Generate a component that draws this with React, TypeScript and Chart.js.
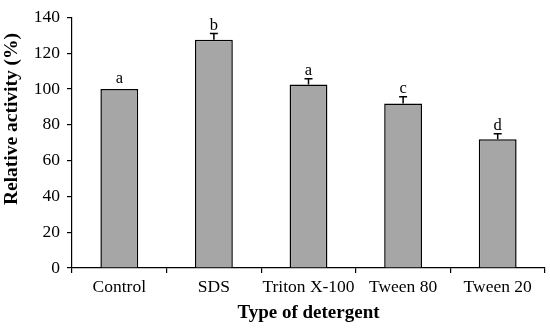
import React, { useEffect, useRef } from "react";
import { Chart, registerables } from "chart.js";

Chart.register(...registerables);

const categories = ["Control", "SDS", "Triton X-100", "Tween 80", "Tween 20"];
const activity = [100, 127.5, 102.5, 92, 72];
const errors = [0, 3.5, 3.3, 3.7, 3];
const letters = ["a", "b", "a", "c", "d"];
const yTicks = [0, 20, 40, 60, 80, 100, 120, 140];
const yTitle = "Relative activity (%)";
const xTitle = "Type of detergent";

const SERIF = "'Liberation Serif', 'Times New Roman', serif";

const errorBarPlugin = {
  id: "errorBars",
  afterDatasetsDraw(chart: any) {
    const ctx = chart.ctx;
    const meta = chart.getDatasetMeta(0);
    const y = chart.scales.y;
    ctx.save();
    meta.data.forEach((bar: any, i: number) => {
      const v = activity[i];
      const e = errors[i];
      const x = bar.x;
      const yTop = y.getPixelForValue(v);
      const yErr = y.getPixelForValue(v + e);
      if (e > 0) {
        ctx.strokeStyle = "#000";
        ctx.lineWidth = 1.5;
        ctx.beginPath();
        ctx.moveTo(x, yTop);
        ctx.lineTo(x, yErr);
        ctx.moveTo(x - 4, yErr);
        ctx.lineTo(x + 4, yErr);
        ctx.stroke();
      }
      ctx.fillStyle = "#000";
      ctx.font = `16.5px ${SERIF}`;
      ctx.textAlign = "center";
      ctx.textBaseline = "alphabetic";
      ctx.fillText(letters[i], x, Math.min(yTop, yErr) - (e > 0 ? 4 : 6));
    });
    // y axis title, placed as in the reference (above the axis middle)
    ctx.fillStyle = "#000";
    ctx.font = `bold 19.5px ${SERIF}`;
    ctx.textAlign = "center";
    ctx.textBaseline = "middle";
    ctx.translate(12, 119);
    ctx.rotate(-Math.PI / 2);
    ctx.fillText(yTitle, 0, 0);
    ctx.restore();
  },
};

export default function App() {
  const ref = useRef<HTMLCanvasElement>(null);
  useEffect(() => {
    document.body.style.margin = "0";
    const chart = new Chart(ref.current!, {
      type: "bar",
      data: {
        labels: categories,
        datasets: [
          {
            data: activity,
            backgroundColor: "#a6a6a6",
            borderColor: "#000",
            borderWidth: 1.5,
            barPercentage: 0.4,
            categoryPercentage: 1,
          },
        ],
      },
      options: {
        animation: false,
        responsive: false,
        maintainAspectRatio: false,
        layout: { padding: { top: 14, right: 5, left: 0, bottom: 0 } },
        plugins: { legend: { display: false }, tooltip: { enabled: false } },
        scales: {
          x: {
            grid: {
              offset: true,
              drawOnChartArea: false,
              drawTicks: true,
              tickLength: 5,
              color: "#000",
              lineWidth: 1.2,
            },
            border: { color: "#000", width: 1.2 },
            ticks: { color: "#000", font: { family: SERIF, size: 17.5 }, padding: 4, maxRotation: 0, autoSkip: false },
            title: {
              display: true,
              text: xTitle,
              color: "#000",
              font: { family: SERIF, size: 19, weight: "bold" },
              padding: { top: 0, bottom: 4 },
            },
            afterFit(scale: any) {
              scale.height = 60;
            },
          },
          y: {
            min: 0,
            max: 140,
            afterBuildTicks(scale: any) {
              scale.ticks = yTicks.map((v) => ({ value: v }));
            },
            grid: {
              drawOnChartArea: false,
              drawTicks: true,
              tickLength: 5,
              color: "#000",
              lineWidth: 1.2,
            },
            border: { color: "#000", width: 1.2 },
            ticks: { color: "#000", font: { family: SERIF, size: 17.5 }, padding: 7 },
            afterFit(scale: any) {
              scale.width = 72;
            },
          },
        },
      },
      plugins: [errorBarPlugin],
    });
    return () => chart.destroy();
  }, []);
  return (
    <div style={{ width: 550, height: 328, background: "#fff" }}>
      <canvas ref={ref} width={550} height={328} />
    </div>
  );
}
